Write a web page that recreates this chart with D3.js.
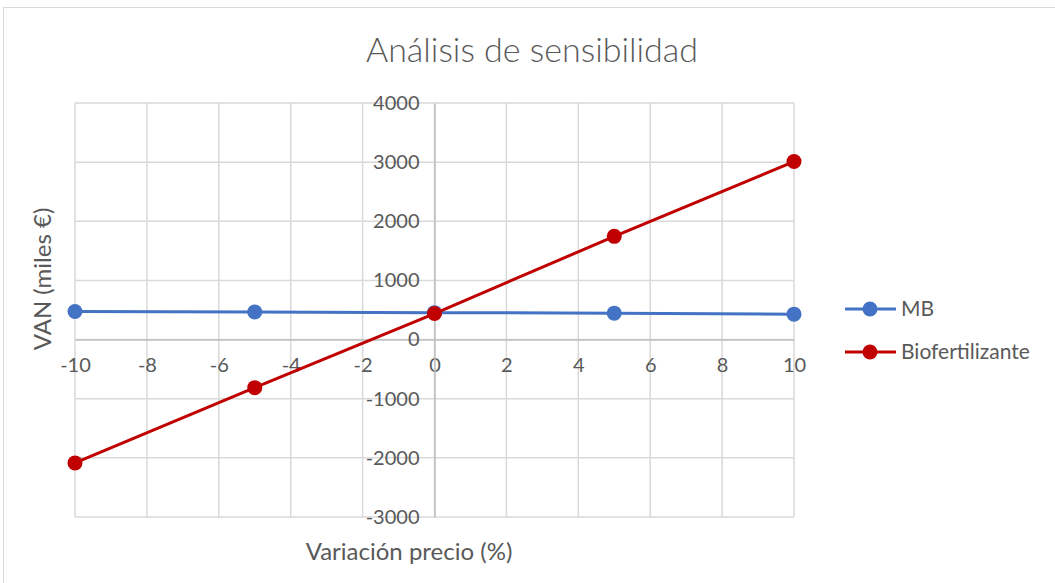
<!DOCTYPE html>
<html>
<head>
<meta charset="utf-8">
<script src="https://cdn.jsdelivr.net/npm/d3@7"></script>
<style>
  body { margin: 0; background: #fff; }
  text { font-family: Lato, "Open Sans", sans-serif; fill: #595959; }
</style>
</head>
<body>
<svg id="chart" width="1055" height="583"></svg>
<script>
const variacion = [-10, -5, 0, 5, 10];
const mb = [475, 468, 455, 447, 430];
const biofertilizante = [-2085, -813, 440, 1745, 3010];
const xTicks = [-10, -8, -6, -4, -2, 0, 2, 4, 6, 8, 10];
const yTicks = [-3000, -2000, -1000, 0, 1000, 2000, 3000, 4000];

const series = [
    { name: 'MB', values: mb, color: '#4472C4' },
    { name: 'Biofertilizante', values: biofertilizante, color: '#C00000' }
];

const svg = d3.select('#chart');

// chart border
svg.append('rect')
    .attr('x', 3.5).attr('y', 7.5)
    .attr('width', 1060).attr('height', 590)
    .attr('fill', 'none')
    .attr('stroke', '#D9D9D9');

const margin = { top: 103, left: 75, right: 794, bottom: 517 };

const x = d3.scaleLinear().domain([-10, 10]).range([margin.left, margin.right]);
const y = d3.scaleLinear().domain([-3000, 4000]).range([margin.bottom, margin.top]);

// gridlines
svg.append('g')
    .selectAll('line')
    .data(xTicks)
    .join('line')
    .attr('x1', d => x(d)).attr('x2', d => x(d))
    .attr('y1', y(4000)).attr('y2', y(-3000))
    .attr('stroke', '#D9D9D9').attr('stroke-width', 1.5);

svg.append('g')
    .selectAll('line')
    .data(yTicks)
    .join('line')
    .attr('x1', x(-10)).attr('x2', x(10))
    .attr('y1', d => y(d)).attr('y2', d => y(d))
    .attr('stroke', '#D9D9D9').attr('stroke-width', 1.5);

// axes crossing at zero
const fmt = d => String(d);
const xAxis = d3.axisBottom(x).tickValues(xTicks).tickFormat(fmt).tickSize(0).tickPadding(18);
svg.append('g')
    .attr('transform', `translate(0,${y(0)})`)
    .call(xAxis)
    .call(g => g.select('.domain').attr('stroke', '#BFBFBF').attr('stroke-width', 1.5))
    .call(g => g.selectAll('text').style('font-size', '20px').attr('fill', '#595959'));

const yAxis = d3.axisLeft(y).tickValues(yTicks).tickFormat(fmt).tickSize(0).tickPadding(15);
svg.append('g')
    .attr('transform', `translate(${x(0)},0)`)
    .call(yAxis)
    .call(g => g.select('.domain').attr('stroke', '#BFBFBF').attr('stroke-width', 1.5))
    .call(g => g.selectAll('text').style('font-size', '20px').attr('fill', '#595959'));

// lines and markers
const line = d3.line()
    .x((d, i) => x(variacion[i]))
    .y(d => y(d));

series.forEach(s => {
    svg.append('path')
        .datum(s.values)
        .attr('fill', 'none')
        .attr('stroke', s.color)
        .attr('stroke-width', 3)
        .attr('d', line);

    svg.append('g')
        .selectAll('circle')
        .data(s.values)
        .join('circle')
        .attr('cx', (d, i) => x(variacion[i]))
        .attr('cy', d => y(d))
        .attr('r', 7.5)
        .attr('fill', s.color);
});

// title
svg.append('text')
    .attr('x', 532).attr('y', 62)
    .attr('text-anchor', 'middle')
    .style('font-size', '34px')
    .style('font-weight', 300)
    .text('Análisis de sensibilidad');

// axis titles
svg.append('text')
    .attr('x', 409).attr('y', 560)
    .attr('text-anchor', 'middle')
    .style('font-size', '24px')
    .text('Variación precio (%)');

svg.append('text')
    .attr('transform', 'translate(51,279) rotate(-90)')
    .attr('text-anchor', 'middle')
    .style('font-size', '24px')
    .text('VAN (miles €)');

// legend
const legend = svg.append('g')
    .selectAll('g')
    .data(series)
    .join('g')
    .attr('transform', (d, i) => `translate(845,${309 + i * 43})`);

legend.append('line')
    .attr('x1', 0).attr('x2', 51)
    .attr('stroke', d => d.color)
    .attr('stroke-width', 3);

legend.append('circle')
    .attr('cx', 25).attr('r', 7.5)
    .attr('fill', d => d.color);

legend.append('text')
    .attr('x', 56).attr('dy', '0.35em')
    .style('font-size', '21px')
    .text(d => d.name);
</script>
</body>
</html>
